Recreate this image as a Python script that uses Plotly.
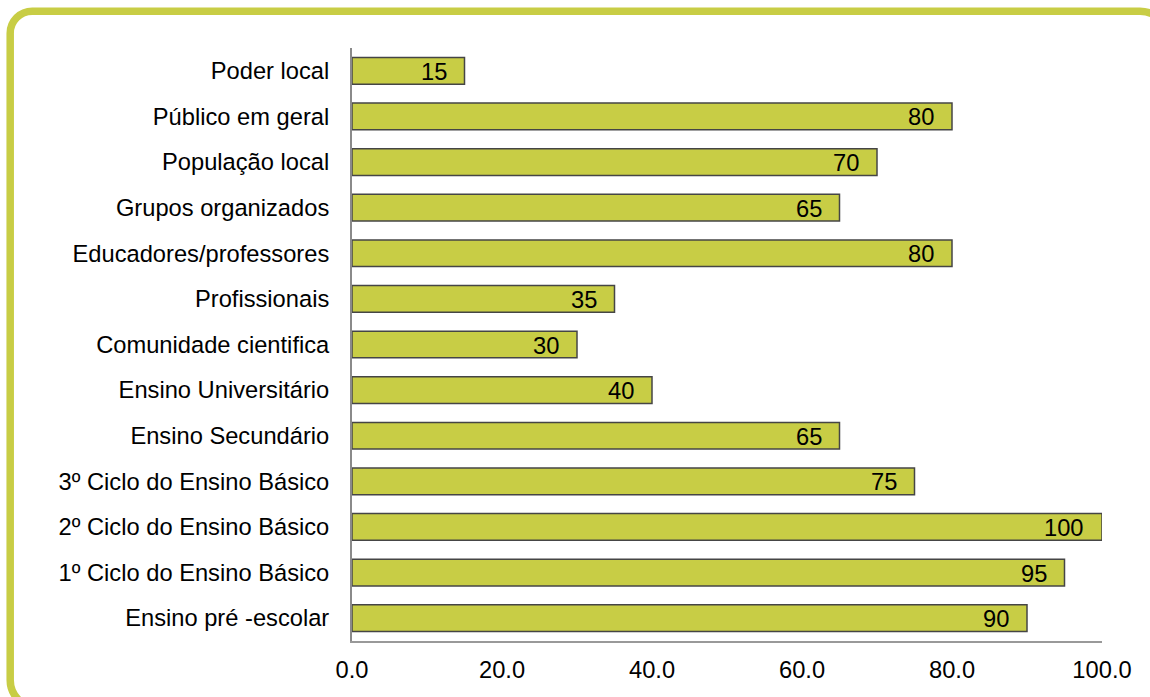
import plotly.graph_objects as go

categories = [
    "Poder local", "Público em geral", "População local", "Grupos organizados",
    "Educadores/professores", "Profissionais", "Comunidade cientifica",
    "Ensino Universitário", "Ensino Secundário", "3º Ciclo do Ensino Básico",
    "2º Ciclo do Ensino Básico", "1º Ciclo do Ensino Básico", "Ensino pré -escolar",
]
values = [15, 80, 70, 65, 80, 35, 30, 40, 65, 75, 100, 95, 90]
x_ticks = [0, 20, 40, 60, 80, 100]
x_tick_labels = ["0.0", "20.0", "40.0", "60.0", "80.0", "100.0"]

GREEN = "#c8cd45"
FONT = "Arial, 'Liberation Sans', sans-serif"
W, H = 1150, 697
L, R, T = 352, 48, 48
B = H - 641
PW, PH = W - L - R, H - T - B

fig = go.Figure()
fig.add_trace(go.Bar(
    x=values, y=categories, orientation="h", width=0.585,
    marker=dict(color=GREEN, line=dict(color="#454545", width=1.5)),
    hoverinfo="x+y",
))

for c, v in zip(categories, values):
    fig.add_annotation(x=v, y=c, xref="x", yref="y", text=str(v), showarrow=False,
                       xanchor="right", xshift=-16, yshift=-1,
                       font=dict(family=FONT, size=23.7, color="black"))

# rounded frame in paper coords (page pixel coords -> paper)
def px(xp):
    return (xp - L) / PW

def py(yp):
    return (H - B - yp) / PH

x0, x1, y0, y1 = 10.2, 1168, 11.2, 708
r_tl, r_tr, r_br, r_bl = 22, 28, 28, 28
k = 0.45
path = (
    f"M {px(x0)},{py(y0 + r_tl)} "
    f"C {px(x0)},{py(y0 + r_tl*k)} {px(x0 + r_tl*k)},{py(y0)} {px(x0 + r_tl)},{py(y0)} "
    f"L {px(x1 - r_tr)},{py(y0)} "
    f"C {px(x1 - r_tr*k)},{py(y0)} {px(x1)},{py(y0 + r_tr*k)} {px(x1)},{py(y0 + r_tr)} "
    f"L {px(x1)},{py(y1 - r_br)} "
    f"C {px(x1)},{py(y1 - r_br*k)} {px(x1 - r_br*k)},{py(y1)} {px(x1 - r_br)},{py(y1)} "
    f"L {px(x0 + r_bl)},{py(y1)} "
    f"C {px(x0 + r_bl*k)},{py(y1)} {px(x0)},{py(y1 - r_bl*k)} {px(x0)},{py(y1 - r_bl)} Z"
)
fig.add_shape(type="path", path=path, xref="paper", yref="paper",
              line=dict(color=GREEN, width=7.5), layer="below")

fig.update_layout(
    width=W, height=H,
    margin=dict(l=L, r=R, t=T, b=B),
    paper_bgcolor="white", plot_bgcolor="white",
    showlegend=False,
    font=dict(family=FONT, size=23.7, color="black"),
    xaxis=dict(range=[0, 100], tickvals=x_ticks, ticktext=x_tick_labels,
               showgrid=False, zeroline=False, showline=True,
               linecolor="#999999", linewidth=1.5, ticks="", ticklabelstandoff=7,
               tickfont=dict(family=FONT, size=23.7, color="black"), fixedrange=True),
    yaxis=dict(autorange="reversed", showgrid=False, zeroline=False, showline=True,
               linecolor="#8a8a8a", linewidth=2, ticks="", ticklabelstandoff=16,
               tickfont=dict(family=FONT, size=23.7, color="black"), fixedrange=True),
)

fig.write_html(
    "out.html",
    config={"displayModeBar": False},
    post_script="document.body.style.margin='0';document.body.style.overflow='hidden';",
)
